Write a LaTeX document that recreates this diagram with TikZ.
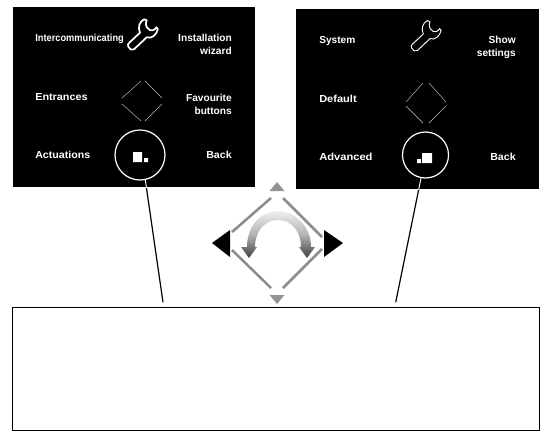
\documentclass[tikz,border=0pt]{standalone}
\usepackage{fontspec}
\setmainfont{Liberation Sans}
\newcommand{\hs}[2]{\scalebox{#1}[1]{#2}}
\tikzset{
  x=0.75pt,y=-0.75pt,
  paneltext/.style={text=white,font=\bfseries\fontsize{7.6pt}{9.75pt}\selectfont,inner sep=0pt,align=right},
  panelbox/.style={fill=black,draw=none},
  ringnode/.style={circle,draw=white,line width=0.9pt,inner sep=0pt},
  navline/.style={draw=black!45,line width=1.9pt},
  smallnav/.style={draw=white!75!black,line width=0.35pt},
  leader/.style={draw=black,line width=0.9pt},
  blacktip/.style={fill=black,draw=none},
  greytip/.style={fill=black!42,draw=none},
}
\newcommand{\wrenchpath}{
  (128.3,46.7) .. controls (127.5,44.8) and (128,43.8) .. (129.3,42.7)
  -- (140,32.7) .. controls (137.8,27.5) and (139,22) .. (144,19.3)
  -- (146.7,20.3) .. controls (145.3,24) and (146,26) .. (147,27.5)
  .. controls (148.8,30) and (151,31) .. (153,30.3)
  .. controls (154.7,29.8) and (155.5,28.5) .. (156.3,27.3)
  -- (157.8,29) .. controls (157,34) and (152,39.5) .. (146.7,37.3)
  -- (134,49.3) .. controls (132,50.8) and (129.3,49.3) .. (128.3,46.7) -- cycle}
\begin{document}
\begin{tikzpicture}
\useasboundingbox (0,0) rectangle (545,446);
\path[fill=white] (0,0) rectangle (545,446);
% panels
\path[panelbox] (13,7) rectangle (255,187);
\path[panelbox] (296,9) rectangle (539,189);
% left panel text
\node[paneltext,anchor=west] (a1) at (35,39) {\hs{0.915}{Intercommunicating}};
\node[paneltext,anchor=east] (a2) at (232,44.5) {Installation\\wizard};
\node[paneltext,anchor=west] (a3) at (35,97) {\hs{1.07}{Entrances}};
\node[paneltext,anchor=east] (a4) at (232,104) {Favourite\\buttons};
\node[paneltext,anchor=west] (a5) at (35,155) {\hs{1.05}{Actuations}};
\node[paneltext,anchor=east] (a6) at (232,155) {\hs{1.05}{Back}};
% right panel text
\node[paneltext,anchor=west] (b1) at (319,41) {System};
\node[paneltext,anchor=east] (b2) at (516,47.5) {Show\\settings};
\node[paneltext,anchor=west] (b3) at (319,99) {\hs{1.09}{Default}};
\node[paneltext,anchor=west] (b5) at (319,157) {\hs{1.1}{Advanced}};
\node[paneltext,anchor=east] (b6) at (516,157) {\hs{1.05}{Back}};
% wrenches
\draw[white,line width=1.3pt,line join=round] \wrenchpath;
\begin{scope}[shift={(283.3,1.3)}]
\draw[white,line width=0.7pt,line join=round] \wrenchpath;
\end{scope}
% small diamonds
\draw[smallnav] (122,98)--(141,81) (145,81)--(162,98) (122,104)--(141,121) (145,121)--(162,104);
\draw[smallnav] (406,102)--(423,83) (429,83)--(446,102) (406,106)--(423,123) (429,123)--(446,106);
% rings
\node[ringnode,minimum size=37.5pt] (r1) at (140,155) {};
\node[ringnode,minimum size=34.5pt] (r2) at (425.5,155) {};
\path[fill=white] (133,152) rectangle (142,162) (144,158) rectangle (148,162);
\path[fill=white] (422,153) rectangle (432,163) (417,159) rectangle (421,163);
% leaders
\coordinate (l1) at (163,302.3);
\coordinate (l2) at (395.7,302.3);
\begin{scope}
\clip (0,187) rectangle (545,446);
\draw[leader] (r1.-78) -- (l1);
\end{scope}
\begin{scope}
\clip (0,189) rectangle (545,446);
\draw[leader] (r2.-101) -- (l2);
\end{scope}
\begin{scope}
\clip (13,7) rectangle (255,187);
\draw[white,line width=0.7pt] (r1.-78) -- (l1);
\end{scope}
\begin{scope}
\clip (296,9) rectangle (539,189);
\draw[white,line width=0.7pt] (r2.-101) -- (l2);
\end{scope}
% central navigation
\draw[navline] (232,232)--(271,198) (283,198)--(322,237) (232,250)--(271,288) (283,288)--(322,249);
\path[greytip] (277,182)--(284.5,191)--(269.5,191)--cycle;
\path[greytip] (277,304)--(284.5,295)--(269.5,295)--cycle;
\path[blacktip] (212,243)--(230,230)--(230,257)--cycle;
\path[blacktip] (343,243)--(324,230)--(324,257)--cycle;
% curved double arrow
\shade[top color=white!94!black,bottom color=black!75,middle color=black!30]
  (247,247) -- (241,247) -- (249,258) -- (257,247) -- (255,247)
  .. controls (255,231) and (265,220) .. (278,220)
  .. controls (291,220) and (301,231) .. (301,247)
  -- (299,247) -- (307,258) -- (315,247) -- (311,247)
  .. controls (311,227) and (296,211) .. (278,211)
  .. controls (260,211) and (247,227) .. (247,247) -- cycle;
% text box
\node[draw=black,line width=0.75pt,inner sep=0pt,minimum width=395.25pt,minimum height=92.25pt,anchor=north west] (tb) at (12.3,307.3) {};
\end{tikzpicture}
\end{document}
